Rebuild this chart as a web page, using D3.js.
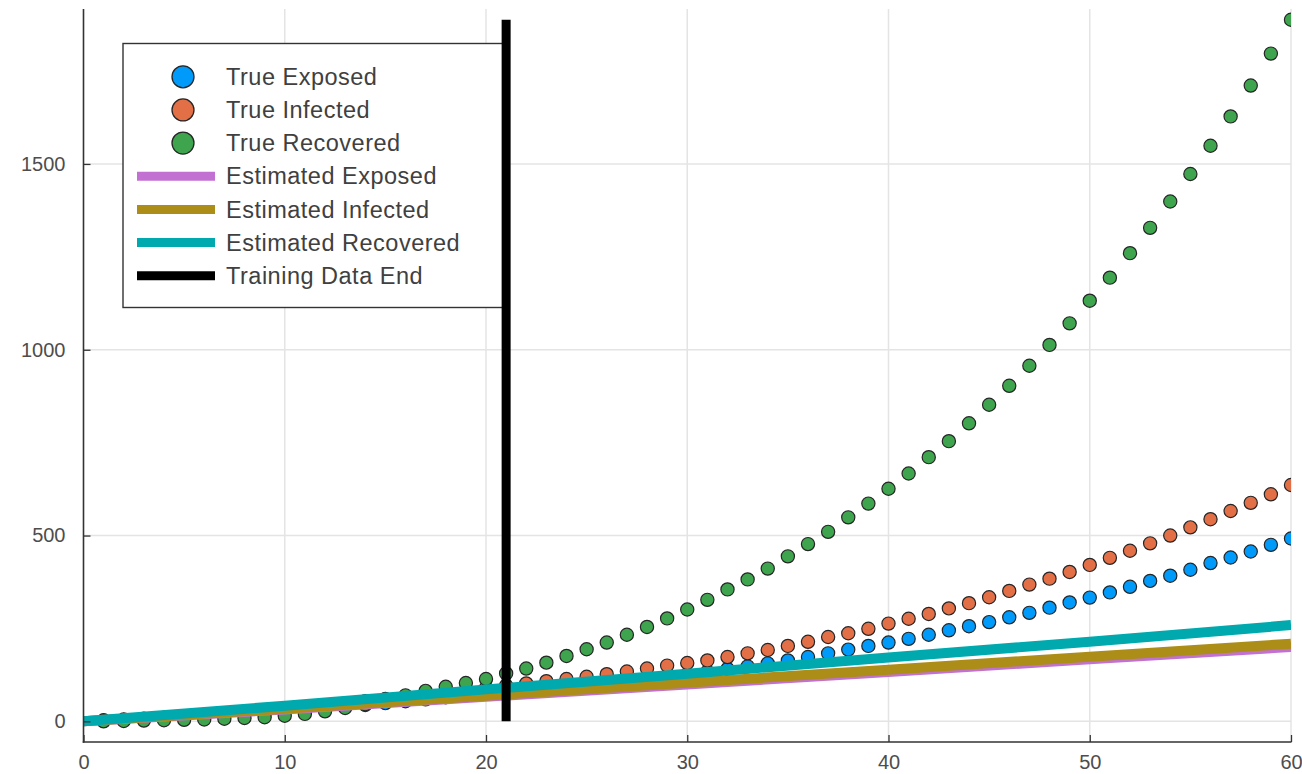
<!DOCTYPE html>
<html>
<head>
<meta charset="utf-8">
<script src="https://cdn.jsdelivr.net/npm/d3@7"></script>
<style>
  html, body { margin: 0; padding: 0; background: #ffffff; }
  svg { display: block; font-family: "Liberation Sans", Arial, Helvetica, sans-serif; }
</style>
</head>
<body>
<svg id="chart" width="1302" height="774"></svg>
<script>
// ---------- data ----------
const days = [1,2,3,4,5,6,7,8,9,10,11,12,13,14,15,16,17,18,19,20,21,22,23,24,25,26,27,28,29,30,
              31,32,33,34,35,36,37,38,39,40,41,42,43,44,45,46,47,48,49,50,51,52,53,54,55,56,57,58,59,60];

const trueExposed = [2,4,6,8,10,13,16,19,22,26,30,34,39,44,49,54,59,65,71,77,81,86,91,96,101,106,111,116,121,127,
                     134,141,148,156,164,173,183,193,203,212,222,233,245,256,267,280,292,306,320,333,347,362,378,392,408,426,441,457,475,492];

const trueInfected = [3,5,7,10,13,16,20,24,28,33,38,43,48,54,60,66,72,78,84,90,96,102,108,114,120,127,134,142,150,157,
                      164,173,183,192,203,214,227,237,249,263,276,289,304,318,334,351,368,384,402,421,440,459,479,500,522,544,566,588,611,636];

const trueRecovered = [0,1,2,3,4,5,7,9,11,15,20,27,36,46,58,70,82,93,103,114,129,142,158,176,194,212,233,254,277,301,
                       327,355,382,411,444,477,510,549,586,626,667,711,754,802,852,903,957,1013,1071,1132,1194,1260,1328,1399,1473,1549,1628,1711,1797,1888];

const estDays = [0,10,20,30,40,50,60];
const estExposed   = [0,32,66,99,133,167,200];
const estInfected  = [0,34,69,104,139,174,209];
const estRecovered = [0,42,86,128,172,214,259];

const trainingEnd = 21;

const xTicks = [0,10,20,30,40,50,60];
const yTicks = [0,500,1000,1500];

const legendLabels = ["True Exposed","True Infected","True Recovered",
                      "Estimated Exposed","Estimated Infected","Estimated Recovered","Training Data End"];
const colors = {
  exposed: "#009AFA", infected: "#E36F47", recovered: "#3EA44E",
  estExposed: "#C271D2", estInfected: "#AC8D18", estRecovered: "#00A9AD", black: "#000000"
};

// ---------- layout ----------
const svg = d3.select("#chart");
const L = 83.5, R = 1291, T = 9, B = 742;
const x = d3.scaleLinear().domain([0, 60]).range([L, R]);
const y = d3.scaleLinear().domain([-55.6, 1917]).range([B, T]);

svg.append("defs").append("clipPath").attr("id", "clip")
  .append("rect").attr("x", L).attr("y", T).attr("width", R - L).attr("height", B - T);

// grid
const grid = svg.append("g");
grid.selectAll(".gx").data(xTicks.filter(d => d > 0)).enter().append("line")
  .attr("x1", d => x(d)).attr("x2", d => x(d)).attr("y1", T).attr("y2", B)
  .attr("stroke", "#e4e4e4").attr("stroke-width", 1.5);
grid.selectAll(".gy").data(yTicks).enter().append("line")
  .attr("x1", L).attr("x2", R).attr("y1", d => y(d)).attr("y2", d => y(d))
  .attr("stroke", "#e4e4e4").attr("stroke-width", 1.5);

// data layer
const plot = svg.append("g").attr("clip-path", "url(#clip)");

function dots(values, color) {
  plot.append("g").selectAll("circle").data(values).enter().append("circle")
    .attr("cx", (d, i) => x(days[i])).attr("cy", d => y(d)).attr("r", 6.6)
    .attr("fill", color).attr("stroke", "#262626").attr("stroke-width", 1.2);
}
dots(trueExposed, colors.exposed);
dots(trueInfected, colors.infected);
dots(trueRecovered, colors.recovered);

const line = d3.line().x(d => x(d[0])).y(d => y(d[1]));
function est(values, color) {
  plot.append("path").datum(values.map((v, i) => [estDays[i], v]))
    .attr("d", line).attr("fill", "none").attr("stroke", color).attr("stroke-width", 10);
}
est(estExposed, colors.estExposed);
est(estInfected, colors.estInfected);
est(estRecovered, colors.estRecovered);

// axes
const axisColor = "#333333";
const textColor = "#4d4d4d";
const xAxis = svg.append("g").attr("transform", `translate(0,${B})`)
  .call(d3.axisBottom(x).tickValues(xTicks).tickFormat(d3.format("d")).tickSizeInner(-7).tickSizeOuter(0).tickPadding(13));
const yAxis = svg.append("g").attr("transform", `translate(${L},0)`)
  .call(d3.axisLeft(y).tickValues(yTicks).tickFormat(d3.format("d")).tickSizeInner(-7).tickSizeOuter(0).tickPadding(18));
[xAxis, yAxis].forEach(a => {
  a.select(".domain").remove();
  a.selectAll(".tick line").attr("stroke", axisColor).attr("stroke-width", 1.3);
  a.selectAll(".tick text").attr("fill", textColor).style("font-size", "20px");
});
svg.append("line").attr("x1", L).attr("x2", L).attr("y1", T).attr("y2", B + 0.75)
  .attr("stroke", axisColor).attr("stroke-width", 1.6);
svg.append("line").attr("x1", L - 0.75).attr("x2", R + 0.5).attr("y1", B).attr("y2", B)
  .attr("stroke", axisColor).attr("stroke-width", 1.6);

// legend
const lg = svg.append("g");
lg.append("rect").attr("x", 123).attr("y", 43.5).attr("width", 382).attr("height", 264)
  .attr("fill", "#ffffff").attr("stroke", "#333333").attr("stroke-width", 1.4);
const legendColors = [colors.exposed, colors.infected, colors.recovered,
                      colors.estExposed, colors.estInfected, colors.estRecovered, colors.black];
legendLabels.forEach((lab, i) => {
  const yy = 76.8 + i * 33.15;
  if (i < 3) {
    lg.append("circle").attr("cx", 183).attr("cy", yy).attr("r", 11)
      .attr("fill", legendColors[i]).attr("stroke", "#262626").attr("stroke-width", 1.3);
  } else {
    lg.append("line").attr("x1", 137).attr("x2", 215).attr("y1", yy).attr("y2", yy)
      .attr("stroke", legendColors[i]).attr("stroke-width", 9);
  }
  lg.append("text").attr("x", 226).attr("y", yy).attr("dy", "0.35em")
    .attr("fill", "#404040").style("font-size", "23.5px").style("letter-spacing", "0.5px").text(lab);
});

// training data end vertical line
svg.append("line")
  .attr("x1", x(trainingEnd)).attr("x2", x(trainingEnd))
  .attr("y1", y(0)).attr("y2", y(d3.max(trueRecovered)))
  .attr("stroke", colors.black).attr("stroke-width", 9);
</script>
</body>
</html>
